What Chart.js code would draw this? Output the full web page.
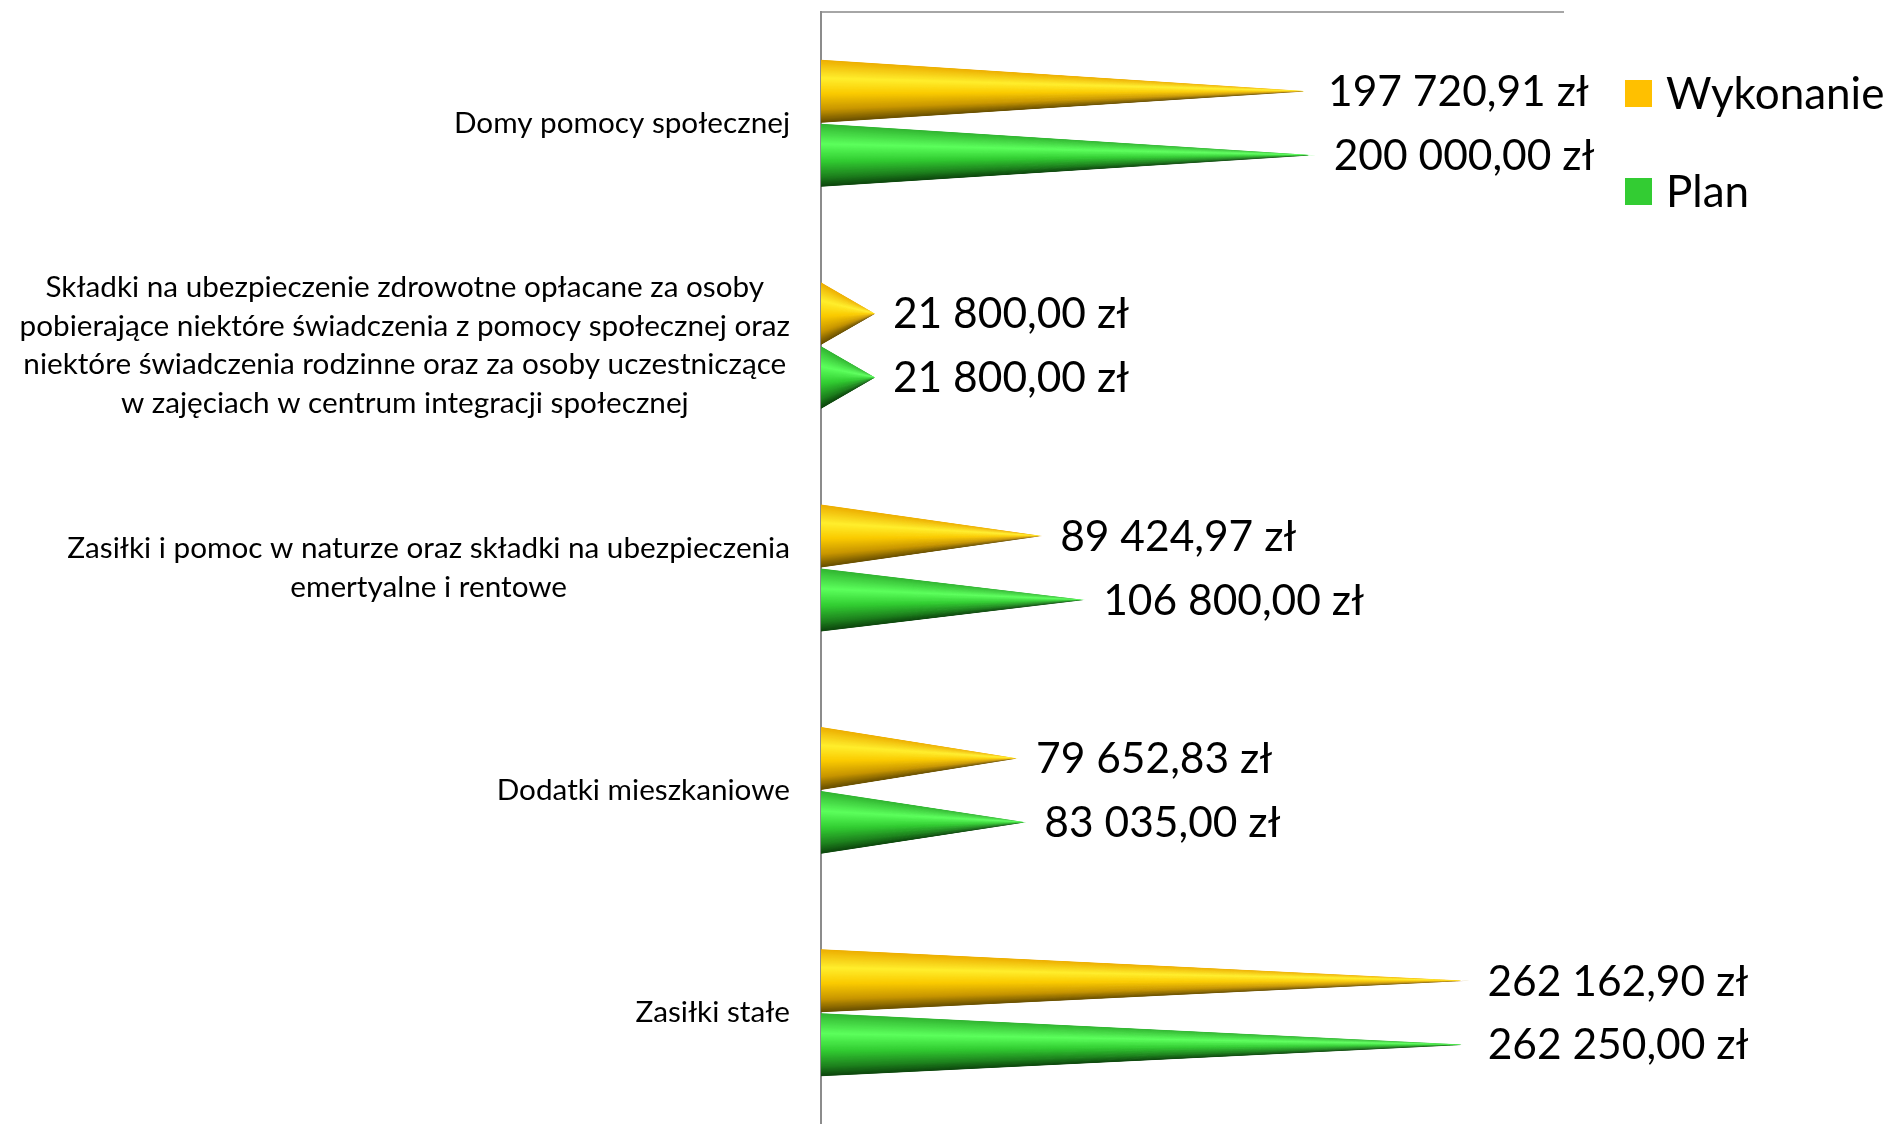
<!DOCTYPE html>
<html>
<head>
<meta charset="utf-8">
<script src="https://cdn.jsdelivr.net/npm/chart.js@4.4.0/dist/chart.umd.min.js"></script>
<style>
  html, body { margin: 0; padding: 0; background: #fff; }
</style>
</head>
<body>
<canvas id="chart" width="1888" height="1124"></canvas>
<script>
// categories, top to bottom (multi-line labels as arrays)
const categories = [
  ['Domy pomocy społecznej'],
  ['Składki na ubezpieczenie zdrowotne opłacane za osoby',
   'pobierające niektóre świadczenia z pomocy społecznej oraz',
   'niektóre świadczenia rodzinne oraz za osoby uczestniczące',
   'w zajęciach w centrum integracji społecznej'],
  ['Zasiłki i pomoc w naturze oraz składki na ubezpieczenia',
   'emertyalne i rentowe'],
  ['Dodatki mieszkaniowe'],
  ['Zasiłki stałe']
];
const wykonanie = [197720.91, 21800.00, 89424.97, 79652.83, 262162.90];
const plan = [200000.00, 21800.00, 106800.00, 83035.00, 262250.00];
const seriesNames = ['Wykonanie', 'Plan'];
const legendColors = ['#ffc000', '#33cc33'];

// cone shading across the cone (top -> bottom)
const coneShades = [
  [[0, [236, 172, 0]], [0.3, [255, 238, 45]], [0.55, [250, 202, 0]], [0.8, [200, 150, 0]], [1, [105, 80, 0]]],
  [[0, [48, 178, 48]], [0.33, [92, 255, 92]], [0.6, [50, 205, 50]], [0.85, [30, 130, 30]], [1, [14, 72, 14]]]
];

function shadeAt(stops, t) {
  for (let i = 1; i < stops.length; i++) {
    if (t <= stops[i][0]) {
      const a = stops[i - 1], b = stops[i];
      const f = (t - a[0]) / (b[0] - a[0]);
      const c = a[1].map((v, k) => Math.round(v + (b[1][k] - v) * f));
      return 'rgb(' + c.join(',') + ')';
    }
  }
  return 'rgb(' + stops[stops.length - 1][1].join(',') + ')';
}

function formatZl(v) {
  const parts = v.toFixed(2).split('.');
  const int = parts[0].replace(/\B(?=(\d{3})+(?!\d))/g, ' ');
  return int + ',' + parts[1] + ' zł';
}

const conePlugin = {
  id: 'cones',
  afterDatasetsDraw(chart) {
    const ctx = chart.ctx;
    chart.data.datasets.forEach((ds, di) => {
      const meta = chart.getDatasetMeta(di);
      meta.data.forEach((bar) => {
        const p = bar.getProps(['x', 'y', 'base', 'height'], true);
        const top = p.y - p.height / 2;
        const h = p.height;
        ctx.save();
        ctx.beginPath();
        ctx.moveTo(p.base, top);
        ctx.lineTo(p.x, p.y);
        ctx.lineTo(p.base, top + h);
        ctx.closePath();
        ctx.clip();
        const n = 80;
        for (let i = 0; i < n; i++) {
          const t0 = i / n, t1 = (i + 1) / n;
          ctx.beginPath();
          ctx.moveTo(p.base - 1, top + t0 * h - 0.6);
          ctx.lineTo(p.base - 1, top + t1 * h + 0.6);
          ctx.lineTo(p.x + 1, p.y);
          ctx.closePath();
          ctx.fillStyle = shadeAt(coneShades[di], (t0 + t1) / 2);
          ctx.fill();
        }
        ctx.restore();
      });
    });
  }
};

const labelPlugin = {
  id: 'valueLabels',
  afterDraw(chart) {
    const ctx = chart.ctx;
    ctx.save();
    ctx.fillStyle = '#000';
    ctx.font = '42.5px Lato';
    ctx.textAlign = 'left';
    ctx.textBaseline = 'middle';
    chart.data.datasets.forEach((ds, di) => {
      chart.getDatasetMeta(di).data.forEach((bar, i) => {
        const p = bar.getProps(['x', 'y'], true);
        ctx.fillText(formatZl(ds.data[i]), p.x + 18, p.y + 1);
      });
    });

    // category labels: block right-aligned, lines centred
    const yScale = chart.scales.y;
    ctx.font = '29.7px Lato';
    ctx.textAlign = 'center';
    const lh = 38.5;
    categories.forEach((lines, i) => {
      const yc = yScale.getPixelForTick(i);
      const widest = Math.max(...lines.map(l => ctx.measureText(l).width));
      const cx = 790 - widest / 2;
      lines.forEach((l, k) => {
        ctx.fillText(l, cx, yc + (k - (lines.length - 1) / 2) * lh);
      });
    });

    // legend
    ctx.font = '44px Lato';
    ctx.textAlign = 'left';
    seriesNames.forEach((name, i) => {
      const yc = 93.5 + i * 98;
      ctx.fillStyle = legendColors[i];
      ctx.fillRect(1625, yc - 13.5, 27, 27);
      ctx.fillStyle = '#000';
      ctx.fillText(name, 1666, yc + 1);
    });
    ctx.restore();
  }
};

function buildChart() {
  const ctx = document.getElementById('chart').getContext('2d');
  new Chart(ctx, {
    type: 'bar',
    data: {
      labels: categories,
      datasets: [
        { label: seriesNames[0], data: wykonanie, backgroundColor: 'rgba(0,0,0,0)' },
        { label: seriesNames[1], data: plan, backgroundColor: 'rgba(0,0,0,0)' }
      ]
    },
    options: {
      indexAxis: 'y',
      responsive: false,
      animation: false,
      layout: { padding: { top: 4, right: 325, bottom: -7, left: 0 } },
      datasets: {
        bar: { categoryPercentage: 0.575, barPercentage: 0.985 }
      },
      scales: {
        x: {
          position: 'top',
          min: 0,
          max: 300000,
          grid: { display: false },
          ticks: { display: false },
          border: { display: true, color: '#a6a6a6', width: 2 }
        },
        y: {
          grid: { display: false },
          ticks: { display: false },
          border: { display: true, color: '#8c8c8c', width: 2 },
          afterFit(scale) { scale.width = 821; }
        }
      },
      plugins: {
        legend: { display: false },
        tooltip: { enabled: false }
      }
    },
    plugins: [conePlugin, labelPlugin]
  });
}

window.onload = buildChart;
</script>
</body>
</html>
